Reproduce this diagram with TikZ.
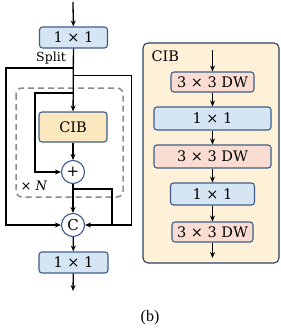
\documentclass[tikz,border=0pt]{standalone}
\usepackage{fontspec}
\setmainfont{DejaVu Serif}
\newfontfamily\capfont{Liberation Serif}
\usetikzlibrary{arrows.meta}
\definecolor{bluefill}{HTML}{D5E5F4}
\definecolor{edgeblue}{HTML}{3D5C8A}
\definecolor{cibfill}{HTML}{FBE8BE}
\definecolor{pinkfill}{HTML}{F9DDD2}
\definecolor{panelfill}{HTML}{FEF1D7}
\definecolor{dashgray}{HTML}{8A8A8A}
\tikzset{
  box/.style={draw=edgeblue, line width=1.1pt, rounded corners=3pt, inner sep=0pt, font=\fontsize{14.5}{16}\selectfont},
  bluebox/.style={box, fill=bluefill},
  pinkbox/.style={box, fill=pinkfill},
  opcircle/.style={circle, draw=edgeblue, line width=1.1pt, fill=white, minimum size=23pt, inner sep=0pt, font=\fontsize{15}{16}\selectfont},
  conn/.style={line width=1.3pt, black},
  arr/.style={conn, -{Stealth[length=6pt,width=5pt]}},
}
\begin{document}
\begin{tikzpicture}[x=1pt,y=-1pt]
\useasboundingbox (0,0) rectangle (281,335);
% left column
\coordinate (in) at (73,2);
\node[bluebox, minimum width=68pt, minimum height=21pt] (top) at (73.5,37.5) {1 × 1};
\node[box, fill=cibfill, minimum width=68pt, minimum height=30pt] (cib) at (73,127) {CIB};
\node[opcircle] (plus) at (73,172) {+};
\node[opcircle] (cat) at (73,225) {C};
\node[bluebox, minimum width=69pt, minimum height=21pt] (bot) at (73.5,262.5) {1 × 1};
\coordinate (out) at (73,291);
\node[font=\fontsize{12.5}{14}\selectfont] (split) at (51,58) {Split};
\draw[dashgray, line width=1.5pt, dash pattern=on 6pt off 4pt, rounded corners=6pt] (16,88) rectangle (123,197);
\node[font=\fontsize{13}{14}\selectfont] (xn) at (34,186) {× \textit{N}};
\coordinate (s1) at (73,68);
\coordinate (s2) at (73,75.5);
\coordinate (s3) at (73,93);
\coordinate (lo) at (6,225);
\coordinate (ro) at (131.5,225);
\coordinate (li) at (35,172);
\coordinate (p1) at (73,189);
\coordinate (ri) at (112,225);
\draw[arr] (in) -- (top);
\draw[arr] (top) -- (cib);
\draw[arr] (s1) -- (s1 -| lo) -- (lo) -- (cat);
\draw[arr] (s2) -- (s2 -| ro) -- (ro) -- (cat);
\draw[arr] (s3) -- (s3 -| li) -- (li) -- (plus);
\draw[arr] (cib) -- (plus);
\draw[arr] (plus) -- (cat);
\draw[conn] (p1) -- (p1 -| ri) -- (ri);
\draw[arr] (cat) -- (bot);
\draw[arr] (bot) -- (out);
% right panel
\node[draw=edgeblue!70!black, line width=1.1pt, fill=panelfill, rounded corners=5pt, minimum width=136pt, minimum height=220pt, inner sep=0pt] (panel) at (211,153) {};
\node[font=\fontsize{14.5}{16}\selectfont, anchor=west] (ptitle) at (148,56) {CIB};
\coordinate (pin) at (212.5,50);
\node[pinkbox, minimum width=83pt, minimum height=20pt] (d1) at (212.5,82) {3 × 3 DW};
\node[bluebox, minimum width=117pt, minimum height=23pt] (c1) at (212.5,118.5) {1 × 1};
\node[pinkbox, minimum width=117pt, minimum height=23pt] (d2) at (212.5,156.5) {3 × 3 DW};
\node[bluebox, minimum width=84pt, minimum height=22pt] (c2) at (212.5,194) {1 × 1};
\node[pinkbox, minimum width=81pt, minimum height=20pt] (d3) at (212.5,232) {3 × 3 DW};
\coordinate (pout) at (212.5,258);
\draw[arr] (pin) -- (d1);
\draw[arr] (d1) -- (c1);
\draw[arr] (c1) -- (d2);
\draw[arr] (d2) -- (c2);
\draw[arr] (c2) -- (d3);
\draw[arr] (d3) -- (pout);
\node[font=\capfont\fontsize{16}{18}\selectfont] (cap) at (150,318) {(b)};
\end{tikzpicture}
\end{document}
